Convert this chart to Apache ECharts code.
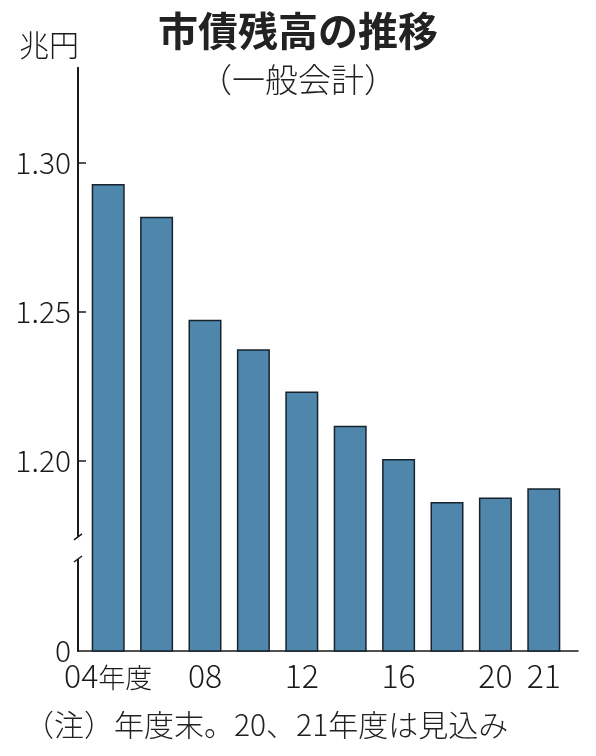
<!DOCTYPE html>
<html>
<head>
<meta charset="utf-8" />
<title>市債残高の推移</title>
<script src="https://cdn.jsdelivr.net/npm/echarts@6.0.0/dist/echarts.min.js"></script>
<style>html,body{margin:0;padding:0;background:#fff;}</style>
</head>
<body>
<div id="main" style="width:596px;height:756px;"></div>
<script type="text/javascript">
// データ（兆円）
var years = ['04', '06', '08', '10', '12', '14', '16', '18', '20', '21'];
var xLabels = ['04年度', '', '08', '', '12', '', '16', '', '20', '21'];
var debt = [1.2928, 1.2818, 1.2473, 1.2374, 1.2233, 1.2118, 1.2007, 1.1863, 1.1878, 1.1909];
var yTicks = [1.20, 1.25, 1.30];
// 軸は途中で省略されている: yMin の位置に「0」を表示
var yMin = 1.1364;
var yMax = 1.3317;
var breakTop = 1.1746;
var breakBottom = 1.1672;

var num = "'Noto Sans CJK JP', sans-serif";
var jp = "'Noto Sans CJK JP', sans-serif";
var ink = '#1a1a1a';

var gridLeft = 84, gridRight = 28, gridTop = 67.7, gridBottom = 105;
var yOffset = 6;

var chart = echarts.init(document.getElementById('main'));

var option = {
  backgroundColor: '#fff',
  animation: false,
  title: [
    {
      text: '市債残高の推移',
      subtext: '（一般会計）',
      left: 'center',
      top: 6,
      itemGap: 12,
      textStyle: { fontFamily: jp, fontSize: 40, fontWeight: 'bold', color: '#222' },
      subtextStyle: { fontFamily: jp, fontSize: 33, fontWeight: 300, color: '#222' }
    },
    {
      text: '（注）年度末。20、21年度は見込み',
      left: 19,
      top: 705,
      textStyle: { fontFamily: jp, fontSize: 30, fontWeight: 300, color: '#222' }
    }
  ],
  grid: [
    { left: gridLeft, right: gridRight, top: gridTop, bottom: gridBottom },
    { left: gridLeft - yOffset, right: 18, top: gridTop, bottom: gridBottom }
  ],
  xAxis: [
    {
      type: 'category',
      gridIndex: 0,
      data: years,
      axisLine: { show: false },
      axisTick: { show: false },
      axisLabel: {
        interval: 0,
        margin: 5,
        color: ink,
        formatter: function (v, i) {
          var s = xLabels[i];
          if (!s) return '';
          var m = s.match(/^(\d*)(.*)$/);
          return '{n|' + m[1] + '}' + (m[2] ? '{j|' + m[2] + '}' : '');
        },
        rich: {
          n: { fontFamily: num, fontSize: 32, fontWeight: 300, color: ink, lineHeight: 36, verticalAlign: 'bottom' },
          j: { fontFamily: jp, fontSize: 27, fontWeight: 300, color: ink, lineHeight: 36, verticalAlign: 'bottom', padding: [0, 0, 1, 0] }
        }
      }
    },
    {
      type: 'value',
      gridIndex: 1,
      min: 0,
      max: 1,
      axisLine: { show: true, lineStyle: { color: ink, width: 1.5 } },
      axisTick: { show: false },
      axisLabel: { show: false },
      splitLine: { show: false }
    }
  ],
  yAxis: [
    {
      type: 'value',
      gridIndex: 0,
      min: yMin,
      max: yMax,
      offset: yOffset,
      name: '兆円',
      nameLocation: 'end',
      nameGap: 23,
      nameTextStyle: { fontFamily: jp, fontSize: 30, fontWeight: 300, color: ink, align: 'right', verticalAlign: 'middle', padding: [0, -1, 0, 0] },
      axisLine: { show: true, lineStyle: { color: ink, width: 2 } },
      axisTick: { show: true, inside: true, length: 8, lineStyle: { color: ink, width: 1.5 }, customValues: yTicks },
      axisLabel: {
        margin: 7,
        color: ink,
        fontFamily: num,
        fontSize: 30,
        fontWeight: 300,
        customValues: [yMin].concat(yTicks),
        formatter: function (v) {
          if (Math.abs(v - yMin) < 1e-6) return '0';
          return v.toFixed(2);
        }
      },
      splitLine: { show: false }
    },
    { type: 'value', gridIndex: 1, min: 0, max: 1, show: false }
  ],
  series: [
    {
      type: 'bar',
      xAxisIndex: 0,
      yAxisIndex: 0,
      data: debt,
      barWidth: 33,
      itemStyle: { color: '#4f87ac', borderColor: '#17222c', borderWidth: 1.5 }
    }
  ]
};

chart.setOption(option);

// 軸の省略記号（波線部分）を軸のスケールから描く
var ax = gridLeft - yOffset;
var yT = chart.convertToPixel({ yAxisIndex: 0 }, breakTop);
var yB = chart.convertToPixel({ yAxisIndex: 0 }, breakBottom);
chart.setOption({
  graphic: [
    { type: 'rect', shape: { x: ax - 6, y: yT, width: 11, height: yB - yT }, style: { fill: '#fff' }, z: 100 },
    { type: 'line', shape: { x1: ax + 4, y1: yT - 3, x2: ax - 4, y2: yT + 3 }, style: { stroke: ink, lineWidth: 1.5 }, z: 101 },
    { type: 'line', shape: { x1: ax + 4, y1: yB - 3, x2: ax - 4, y2: yB + 3 }, style: { stroke: ink, lineWidth: 1.5 }, z: 101 }
  ]
});
</script>
</body>
</html>
